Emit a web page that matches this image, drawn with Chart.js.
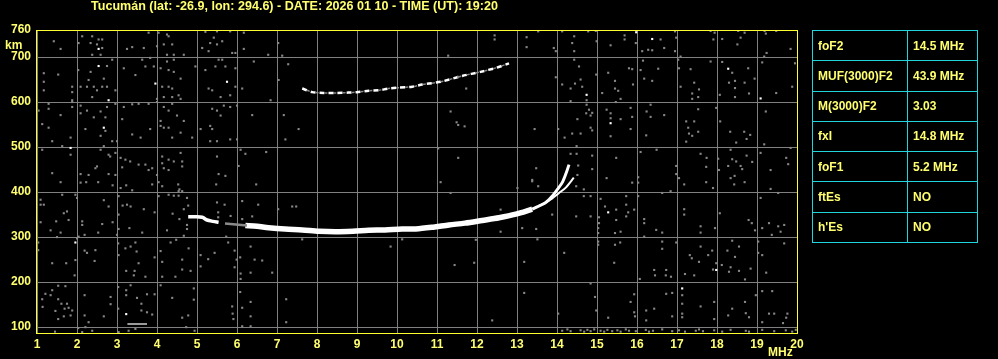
<!DOCTYPE html>
<html>
<head>
<meta charset="utf-8">
<script src="https://cdn.jsdelivr.net/npm/chart.js@4.4.0/dist/chart.umd.min.js"></script>
<style>
  html, body { margin: 0; padding: 0; background: #000; overflow: hidden; }
  #wrap { position: relative; width: 998px; height: 359px; background: #000; }
  #title { position: absolute; left: 91px; top: 0px; color: #ffff70; font: bold 12px "Liberation Sans", Arial, sans-serif; line-height: 12px; white-space: nowrap; transform-origin: 0 0; }
  .lbl { position: absolute; color: #ffff70; font: bold 12px "Liberation Sans", Arial, sans-serif; line-height: 12px; white-space: nowrap; }
  #params { position: absolute; left: 812px; top: 30px; width: 166px; height: 213px; border-collapse: collapse; border: 1px solid #22d4dc; }
  #params td { border: 1px solid #22d4dc; color: #ffff70; font: bold 12px "Liberation Sans", Arial, sans-serif; padding: 0 0 0 5px; }
  #params td.n { width: 89px; }
</style>
</head>
<body>
<div id="wrap">
  <canvas id="iono" width="998" height="359"></canvas>
  <div id="title">Tucumán (lat: -26.9, lon: 294.6) - DATE: 2026 01 10 - TIME (UT): 19:20</div>
  <div class="lbl" style="left:5px; top:39px;">km</div>
  <div class="lbl" style="left:768px; top:346px;">MHz</div>
  <table id="params"></table>
</div>
<script>
// axes
const freqTicks = [1, 2, 3, 4, 5, 6, 7, 8, 9, 10, 11, 12, 13, 14, 15, 16, 17, 18, 19, 20];
const kmTicks = [100, 200, 300, 400, 500, 600, 700, 760];

// scaled parameters table
const paramNames = ['foF2', 'MUF(3000)F2', 'M(3000)F2', 'fxI', 'foF1', 'ftEs', "h'Es"];
const paramValues = ['14.5 MHz', '43.9 MHz', '3.03', '14.8 MHz', '5.2 MHz', 'NO', 'NO'];

// F1 trace
const f1Freq = [4.78, 4.95, 5.13, 5.25, 5.40, 5.54];
const f1Km = [345, 345, 344, 338, 335, 333];
// weak link F1 -> F2
const linkFreq = [5.70, 6.25];
const linkKm = [330, 326];
// F2 ordinary trace
const oFreq = [6.21, 6.50, 6.79, 7.20, 7.63, 8.05, 8.46, 8.90, 9.29, 9.70, 10.13, 10.47, 10.90, 11.30, 11.70, 12.13, 12.55, 12.97, 13.38];
const oKm = [326, 324, 321, 318, 316, 313, 312, 313, 315, 316, 318, 318, 322, 327, 331, 337, 343, 351, 362];
const oTailFreq = [13.38, 13.72, 13.88, 14.01, 14.13, 14.22, 14.30];
const oTailKm = [362, 377, 391, 406, 421, 440, 461];
// F2 extraordinary trace
const xFreq = [13.55, 13.80, 14.05, 14.22, 14.42];
const xKm = [370, 381, 398, 410, 432];
// second hop F2
const mFreq = [7.63, 7.88, 8.17, 8.46, 8.79, 9.00, 9.29, 9.54, 9.79, 10.04, 10.38, 10.63, 11.10, 11.63, 12.09, 12.48, 12.80];
const mKm = [630, 622, 620, 620, 621, 622, 625, 626, 630, 632, 634, 639, 645, 658, 667, 676, 686];
// low echo near 3 MHz
const eFreq = [3.26, 3.75];
const eKm = [107, 107];

// scattered noise [MHz, km]
const noiseGrey = [
  [2.38,746],[2.13,746],[2.54,739],[2.63,739],[2.04,731],[2.34,731],[2.50,728],[2.63,720],[2.38,705],[2.59,705],[1.42,735],[1.59,718],[3.25,718],[3.38,722],[3.67,720],[3.79,754],[4.04,754],[4.25,750],[4.29,746],[4.00,724],[4.17,728],[4.38,728],[4.42,705],[4.25,705],[4.67,705],[5.21,756],[5.50,757],[5.83,757],[6.17,754],[5.42,743],[5.33,731],[5.13,720],[5.50,728],[5.63,735],[5.29,713],[5.88,709],[5.96,709],[6.17,718],[7.03,731],[6.78,705],[7.13,703],
  [2.88,694],[2.75,680],[3.17,675],[3.46,660],[3.63,694],[3.83,698],[3.71,679],[3.92,679],[4.09,675],[4.25,690],[4.42,694],[4.42,667],[4.29,671],[4.59,652],[4.96,679],[5.21,671],[5.54,694],[5.63,694],[5.46,679],[5.71,679],[5.96,675],[6.42,690],[7.28,684],[7.04,649],[1.17,664],[1.53,661],[1.17,645],[1.17,626],[2.03,671],[2.34,667],[2.67,652],[2.29,649],[2.42,634],[2.50,626],[2.63,634],[2.75,634],[2.96,626],[2.09,634],[1.88,634],[1.88,622],[2.25,634],[1.88,604],[2.38,611],[4.13,634],[4.29,634],[4.38,630],[4.17,611],[4.00,607],[4.38,611],[4.54,615],[4.59,607],[5.29,630],[5.38,626],[5.59,611],[5.83,615],[5.96,634],[6.13,630],[6.84,604],
  [1.29,596],[1.04,581],[1.29,585],[1.59,571],[1.88,600],[1.88,589],[2.09,592],[2.09,575],[2.25,581],[2.42,566],[2.59,579],[2.71,566],[2.75,589],[2.96,596],[3.17,589],[3.13,562],[3.38,595],[3.54,596],[3.79,596],[4.00,600],[4.09,558],[4.17,589],[4.29,581],[4.38,596],[4.50,570],[4.67,558],[4.09,547],[1.13,551],[1.29,543],[1.84,521],[2.21,540],[2.59,525],[2.71,536],[2.88,513],[3.00,513],[3.38,528],[3.59,521],[3.83,540],[4.17,543],[4.29,543],[4.38,521],[4.59,532],[4.88,521],[5.09,540],[5.33,547],[5.38,540],[5.38,585],[5.50,581],[5.59,570],[5.67,592],[5.83,589],[6.00,592],[6.38,571],[7.17,571],[7.54,540],[7.21,517],[5.33,513],[5.50,513],[5.83,517],[6.00,517],
  [1.13,494],[1.38,513],[1.63,502],[1.84,483],[2.59,494],[2.67,502],[2.79,483],[2.83,479],[2.96,487],[3.09,476],[3.21,472],[3.33,468],[3.54,461],[3.71,461],[3.88,453],[4.13,479],[4.13,464],[4.29,472],[4.42,468],[4.63,468],[4.59,487],[4.63,457],[4.17,453],[4.29,449],[4.00,438],[3.79,449],[2.50,457],[2.46,453],[2.79,440],[2.96,438],[2.29,438],[2.09,440],[1.38,442],[3.13,455],[5.54,440],[5.71,436],[6.04,458],[6.09,494],[6.21,485],[6.73,489],[5.50,479],
  [12.44,748],[12.44,739],[13.24,744],[13.24,722],[13.53,757],[13.92,720],[13.97,713],[14.13,757],[14.43,746],[14.38,731],[14.43,713],[14.78,757],[14.97,758],[14.99,735],[15.34,726],[15.69,748],[15.69,739],[15.97,731],[16.13,713],[16.28,716],[16.38,715],[16.59,739],[16.68,720],[16.95,757],[16.98,743],[16.95,713],[17.09,701],[17.84,758],[17.94,754],[17.91,739],[18.13,740],[18.51,728],[18.59,743],[18.53,758],[18.69,754],[19.19,758],[19.22,752],[19.48,758],[19.84,718],[19.24,709],[19.18,701],
  [11.28,703],[11.53,656],[11.73,630],[13.97,655],[14.13,639],[14.34,630],[14.45,641],[14.43,694],[14.55,679],[14.59,650],[14.63,634],[14.74,604],[14.34,602],[14.98,661],[15.28,665],[15.45,647],[15.45,630],[15.53,625],[15.59,607],[15.47,600],[15.13,620],[15.80,675],[15.88,673],[15.90,639],[16.09,671],[16.15,692],[16.18,652],[16.38,647],[16.53,674],[17.03,694],[17.05,675],[17.09,634],[17.34,673],[17.43,643],[17.55,628],[17.38,619],[17.38,607],[17.53,611],[17.84,690],[18.13,689],[18.38,665],[18.30,643],[18.45,647],[18.45,631],[18.07,616],[18.45,611],[18.69,643],[18.80,619],[18.78,675],[18.94,652],[19.13,688],[19.48,620],[19.88,634],[19.95,686],
  [11.34,579],[11.49,555],[11.53,549],[11.69,546],[13.44,540],[14.03,540],[14.74,594],[14.73,575],[14.80,583],[14.84,570],[14.88,576],[14.51,562],[14.38,530],[14.59,530],[14.19,521],[14.84,543],[14.88,537],[15.24,583],[15.34,575],[15.34,564],[15.34,524],[15.59,562],[15.84,587],[15.88,567],[15.84,540],[16.24,579],[16.34,594],[16.34,567],[16.23,526],[16.68,571],[17.23,557],[17.43,557],[17.28,543],[17.30,530],[17.38,525],[17.53,534],[17.23,512],[17.53,584],[17.98,587],[18.08,557],[18.33,534],[18.48,510],[18.68,534],[18.83,527],[18.74,518],[19.22,579],[19.18,506],[19.84,498],
  [11.03,497],[11.53,476],[13.48,453],[13.38,427],[14.34,485],[14.49,485],[14.49,502],[14.88,481],[14.88,451],[14.53,459],[14.51,438],[15.24,431],[15.48,476],[16.03,433],[16.09,489],[16.49,494],[16.98,458],[16.98,440],[17.05,431],[17.59,485],[17.74,476],[17.73,456],[18.03,474],[18.05,449],[18.28,458],[18.34,494],[18.38,473],[18.48,468],[18.59,458],[18.63,451],[18.74,481],[18.88,467],[18.44,436],[18.34,431],[19.09,487],[19.34,449],[19.73,476],[19.78,462],
  [1.59,422],[2.09,421],[2.23,422],[2.53,422],[2.89,415],[3.09,409],[3.23,415],[3.38,404],[3.88,417],[4.04,422],[4.13,413],[4.53,417],[4.56,406],[4.63,402],[5.48,417],[6.48,417],[1.09,383],[1.09,372],[1.17,372],[1.63,394],[1.96,394],[2.00,387],[1.67,353],[1.75,357],[1.79,338],[1.48,335],[1.09,333],[2.13,335],[2.13,327],[2.63,329],[2.89,333],[2.67,382],[2.79,368],[3.04,391],[3.14,370],[3.25,372],[3.34,368],[3.04,350],[3.67,362],[3.94,355],[4.04,391],[4.29,394],[4.42,392],[4.54,392],[4.54,402],[4.75,387],[4.78,370],[4.67,362],[4.39,352],[4.56,340],[4.75,327],[4.75,318],[4.67,303],[4.25,315],[3.63,310],[3.31,320],[3.04,318],[3.00,305],[2.53,310],[2.19,305],[2.04,301],[2.00,297],[1.59,310],[1.34,315],[1.50,300],[1.03,288],[1.03,271],
  [1.38,242],[1.73,242],[1.96,249],[1.94,215],[2.46,271],[2.19,270],[2.44,247],[2.25,265],[3.03,286],[3.04,260],[3.21,275],[3.34,279],[3.46,288],[3.49,268],[3.54,242],[3.23,225],[3.44,225],[3.42,215],[3.71,212],[3.94,255],[4.09,269],[4.13,245],[4.13,212],[4.34,288],[4.48,294],[4.63,250],[4.63,228],[4.46,212],[4.84,225],[4.79,275],[5.09,260],[5.09,235],[5.28,251],[5.44,265],[5.73,301],[5.78,288],[5.94,270],[5.99,250],[6.08,255],[5.94,233],[6.09,219],[6.09,207],[6.34,279],[6.34,221],[6.44,250],[6.63,248],[6.88,221],[7.03,362],[7.38,368],[7.48,368],[5.50,377],[5.69,372],[5.53,355],[5.53,344],[5.84,347],[6.13,380],[6.13,340],[6.53,372],[6.38,346],[7.63,295],[9.84,279],[10.13,295],
  [1.13,162],[1.21,174],[1.38,182],[1.53,192],[1.53,162],[1.61,152],[1.71,191],[1.75,152],[1.69,141],[1.79,143],[1.84,126],[1.67,124],[1.88,137],[1.46,136],[1.53,118],[1.14,145],[1.34,171],[2.19,171],[2.19,126],[2.29,111],[2.67,124],[2.84,167],[2.84,151],[3.03,189],[3.03,141],[3.23,182],[3.23,171],[3.34,193],[3.50,165],[3.61,152],[3.61,137],[3.75,133],[3.75,173],[3.88,128],[3.94,173],[4.09,193],[4.38,165],[4.63,121],[4.78,126],[4.92,186],[4.92,161],[4.73,100],[4.94,92],[5.88,146],[5.89,130],[5.91,118],[6.08,178],[6.13,143],[6.34,156],[6.34,124],[6.13,102],[6.34,102],[7.23,111],[7.23,162],[2.13,89],[2.21,100],[2.03,98],[2.38,92],[3.29,92],[3.46,96],[3.04,89],[1.45,90],
  [11.09,422],[11.34,398],[13.01,409],[13.38,424],[13.53,413],[14.48,413],[14.67,406],[14.84,391],[14.67,391],[15.09,385],[15.20,368],[15.05,344],[15.05,331],[15.03,320],[15.03,309],[15.03,290],[15.03,283],[15.48,361],[15.48,338],[15.59,312],[15.73,391],[15.73,372],[15.73,346],[15.78,355],[15.93,361],[15.88,421],[16.03,421],[16.03,391],[16.18,340],[16.18,331],[16.18,301],[16.48,316],[16.63,310],[16.63,398],[16.84,402],[17.18,417],[17.18,362],[17.18,350],[17.59,324],[17.59,310],[17.73,422],[17.90,409],[18.07,353],[17.95,320],[18.43,417],[18.69,422],[19.09,387],[19.53,398],[19.34,407],[18.79,338],[18.87,331],[18.95,315],[19.13,320],[19.30,331],[19.37,305],[19.59,312],[19.68,327],[19.03,290],[19.68,286],[19.53,324],
  [15.43,243],[15.45,309],[15.45,283],[15.58,288],[16.63,290],[16.63,274],[16.98,288],[17.59,279],[17.78,260],[17.88,270],[17.98,242],[18.26,270],[18.38,292],[18.55,279],[18.45,256],[18.55,225],[18.70,206],[18.84,230],[18.12,238],[18.34,233],[18.30,223],[19.03,265],[19.13,260],[19.23,221],[17.55,245],[17.32,260],[17.37,253],[17.20,218],[17.43,215],[17.90,228],[16.43,227],[16.73,227],[16.45,215],[16.72,215],[16.85,212],[16.07,207],[14.18,265],[13.18,245],[13.18,176],[12.59,361],[12.59,312],[13.13,320],[13.48,318],[13.51,295],[13.88,350],[14.48,346],[14.84,346],[11.97,294],[11.93,243],[11.44,238],
  [12.38,115],[14.03,130],[14.84,197],[14.95,167],[14.98,137],[15.28,121],[15.84,156],[15.93,173],[15.93,133],[15.95,124],[16.23,137],[16.23,115],[16.43,141],[16.73,174],[16.88,176],[16.88,124],[17.13,171],[17.13,152],[17.13,130],[17.13,122],[17.59,146],[17.93,156],[17.93,118],[18.28,126],[18.38,141],[18.70,156],[18.72,131],[18.80,122],[18.97,171],[19.13,180],[19.38,180],[19.13,111],[19.30,130],[19.43,130],[19.76,130],[19.73,121],[19.65,109],
  [14.13,92],[14.26,95],[14.34,91],[14.59,93],[14.68,90],[14.76,94],[14.84,91],[14.93,95],[15.09,92],[15.18,90],[15.26,94],[15.38,91],[15.51,93],[15.59,90],[15.72,95],[15.80,92],[15.97,91],[16.22,94],[16.30,90],[16.40,92],[16.63,95],[16.88,91],[17.05,93],[17.20,90],[17.47,92],[17.55,95],[17.65,91],[17.93,93],[18.13,90],[18.34,94],[18.72,92],[18.80,90],[19.13,94],[19.43,91],[19.72,93],[19.88,90],[19.97,94]
];
const noiseWhite = [
  [2.54,718],[2.54,680],[2.79,604],[3.96,641],[5.75,645],[2.67,543],[1.84,498],
  [15.98,755],[16.38,740],[14.74,616],[15.34,553],[18.28,674],[19.09,608],
  [1.96,288],[3.23,129],[15.28,355],[17.98,227],[17.13,186]
];

const pts = (fs, ks) => fs.map((f, i) => ({ x: f, y: ks[i] }));
const pairs = arr => arr.map(p => ({ x: p[0], y: p[1] }));

// parameter table
const table = document.getElementById('params');
paramNames.forEach((n, i) => {
  const tr = table.insertRow();
  const a = tr.insertCell(); a.className = 'n'; a.textContent = n;
  const b = tr.insertCell(); b.textContent = paramValues[i];
});

// squeeze title to the width of the original font
const title = document.getElementById('title');
title.style.transform = 'scaleX(' + (407 / title.offsetWidth) + ')';

const frame = {
  id: 'frame',
  afterDraw(chart) {
    const { ctx, chartArea: a } = chart;
    ctx.save();
    ctx.strokeStyle = '#ffff30';
    ctx.lineWidth = 1;
    ctx.strokeRect(Math.round(a.left) - 0.5, Math.round(a.top) + 0.5, Math.round(a.right - a.left) + 1, Math.round(a.bottom - a.top));
    ctx.restore();
  }
};

const lineSet = (data, color, width, extra) => Object.assign({
  type: 'line', data: data, showLine: true, borderColor: color, borderWidth: width,
  pointRadius: 0, fill: false, tension: 0.3, borderCapStyle: 'butt'
}, extra || {});

const tickFont = { family: '"Liberation Sans", Arial, sans-serif', size: 12, weight: 'bold' };

new Chart(document.getElementById('iono').getContext('2d'), {
  type: 'scatter',
  data: {
    datasets: [
      { data: pairs(noiseGrey), backgroundColor: '#868686', pointStyle: 'rect', pointRadius: 1.5, pointBorderWidth: 0 },
      { data: pairs(noiseWhite), backgroundColor: '#ffffff', pointStyle: 'rect', pointRadius: 1.5, pointBorderWidth: 0 },
      lineSet(pts(mFreq, mKm), '#8a8a8a', 1.5, { tension: 0.2, borderDash: [3, 6], borderDashOffset: 4 }),
      lineSet(pts(mFreq, mKm), '#ffffff', 2.5, { tension: 0.2, borderDash: [5, 4] }),
      lineSet(pts(linkFreq, linkKm), '#8a8a8a', 2.5),
      lineSet(pts(f1Freq, f1Km), '#ffffff', 3.5),
      lineSet(pts(oFreq, oKm), '#ffffff', 5.5),
      lineSet(pts(oTailFreq, oTailKm), '#ffffff', 3),
      lineSet(pts(xFreq, xKm), '#ffffff', 2),
      lineSet(pts(eFreq, eKm), '#9a9a9a', 2)
    ]
  },
  options: {
    responsive: false,
    devicePixelRatio: 1,
    animation: false,
    events: [],
    layout: { padding: { top: 30, right: 201, bottom: 0, left: 0 } },
    plugins: { legend: { display: false }, tooltip: { enabled: false } },
    scales: {
      x: {
        type: 'linear', min: 1, max: 20,
        afterFit: s => { s.height = 26; },
        afterBuildTicks: s => { s.ticks = freqTicks.map(v => ({ value: v })); },
        grid: { color: '#808080', lineWidth: 1, drawTicks: false },
        border: { display: false },
        ticks: { color: '#ffff70', font: tickFont, padding: 4, autoSkip: false, maxRotation: 0 }
      },
      y: {
        type: 'linear', min: 87, max: 760,
        afterFit: s => { s.width = 37; },
        afterBuildTicks: s => { s.ticks = kmTicks.map(v => ({ value: v })); },
        grid: { color: '#808080', lineWidth: 1, drawTicks: false },
        border: { display: false },
        ticks: { color: '#ffff70', font: tickFont, padding: 6, autoSkip: false }
      }
    }
  },
  plugins: [frame]
});
</script>
</body>
</html>
